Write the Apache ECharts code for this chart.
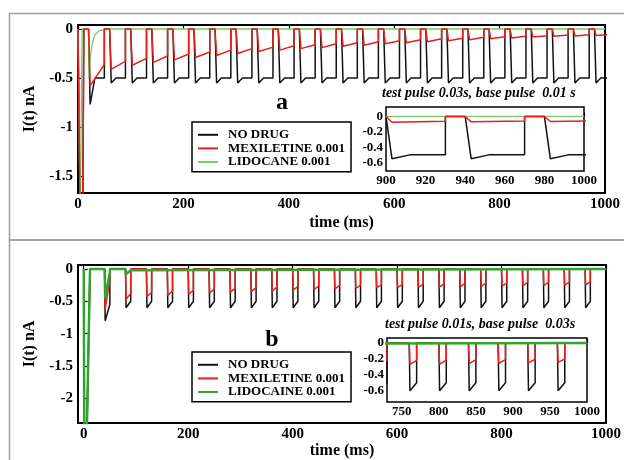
<!DOCTYPE html>
<html><head><meta charset="utf-8">
<script src="https://cdn.jsdelivr.net/npm/echarts@6/dist/echarts.min.js"></script>
<style>html,body{margin:0;padding:0;background:#fff}#c{width:624px;height:460px}</style>
</head><body><div id="c"></div><script>
// ---------- Panel a : test pulse 30 ms, base pulse 10 ms ----------
const pulseStartA = [20,60,100,140,180,220,260,300,340,380,420,460,500,540,580,620,660,700,740,780,820,860,900,940,980];
const blackMinA = [-0.77,-0.55,-0.55,-0.55,-0.55,-0.55,-0.55,-0.55,-0.55,-0.55,-0.55,-0.55,-0.55,-0.55,-0.55,-0.55,-0.55,-0.55,-0.55,-0.55,-0.55,-0.55,-0.55,-0.55,-0.55];
const blackEndA = [-0.5,-0.5,-0.5,-0.5,-0.5,-0.5,-0.5,-0.5,-0.5,-0.5,-0.5,-0.5,-0.5,-0.5,-0.5,-0.5,-0.5,-0.5,-0.5,-0.5,-0.5,-0.5,-0.5,-0.5,-0.5];
const redMinA = [-0.58,-0.41,-0.37,-0.34,-0.315,-0.29,-0.27,-0.25,-0.23,-0.215,-0.2,-0.19,-0.175,-0.165,-0.15,-0.14,-0.13,-0.12,-0.11,-0.1,-0.092,-0.082,-0.075,-0.07,-0.066];
const redEndA = [-0.36,-0.33,-0.3,-0.275,-0.255,-0.235,-0.215,-0.2,-0.185,-0.17,-0.16,-0.15,-0.14,-0.13,-0.12,-0.11,-0.1,-0.095,-0.085,-0.08,-0.075,-0.068,-0.062,-0.058,-0.055];
const blackPreA = [[0,0],[3,0],[4,-1.9],[9,-1.9],[11,0]];
const redPreA = [[0,0],[3,0],[4,-1.9],[9,-1.9],[11,0]];
const greenA = [[0,0],[3,0],[4,-1.9],[7,-1.9],[8,0],[20,0],[21,-0.5],[23,-0.3],[27,-0.15],[32,-0.06],[40,-0.02],[50,-0.005],[60,0],[1000,0]];
const testLenA = 30;

// ---------- Panel b : test pulse 10 ms, base pulse 30 ms ----------
const pulseStartB = [40,80,120,160,200,240,280,320,360,400,440,480,520,560,600,640,680,720,760,800,840,880,920,960];
const blackMinB = [-0.8,-0.6,-0.6,-0.6,-0.6,-0.6,-0.6,-0.6,-0.6,-0.6,-0.6,-0.6,-0.6,-0.6,-0.6,-0.6,-0.6,-0.6,-0.6,-0.6,-0.6,-0.6,-0.6,-0.6];
const blackEndB = [-0.55,-0.5,-0.5,-0.5,-0.5,-0.5,-0.5,-0.5,-0.5,-0.5,-0.5,-0.5,-0.5,-0.5,-0.5,-0.5,-0.5,-0.5,-0.5,-0.5,-0.5,-0.5,-0.5,-0.5];
const redMinB = [-0.62,-0.47,-0.43,-0.41,-0.39,-0.37,-0.36,-0.35,-0.34,-0.33,-0.32,-0.31,-0.3,-0.295,-0.29,-0.285,-0.28,-0.275,-0.27,-0.265,-0.26,-0.255,-0.25,-0.245];
const redEndB = [-0.17,-0.38,-0.36,-0.34,-0.33,-0.31,-0.3,-0.29,-0.28,-0.27,-0.26,-0.255,-0.25,-0.245,-0.24,-0.235,-0.23,-0.225,-0.22,-0.215,-0.21,-0.21,-0.205,-0.2];
const preB = [[0,0],[1,-2.5],[6,-2.5],[12,0]];
const greenB = [[0,0],[1,-2.5],[6,-2.5],[12,0],[40,0],[41,-0.45],[50,-0.06],[50,0],[80,0],[81,-0.08],[90,-0.02],[90,0],[1000,0]];
const testLenB = 10;

// axis ticks
const xTicksMain = [0,200,400,600,800,1000];
const yTicksA = [0,-0.5,-1,-1.5];
const yTicksB = [0,-0.5,-1,-1.5,-2];
const xTicksInsetA = [900,920,940,960,980,1000];
const xTicksInsetB = [750,800,850,900,950,1000];
const yTicksInset = [0,-0.2,-0.4,-0.6];

// ---------- build waveforms ----------
function waveA(pre, mins, ends, knee) {
  const out = pre.slice();
  pulseStartA.forEach((t0, k) => {
    out.push([t0, 0], [t0 + 3, mins[k]]);
    if (knee) out.push([t0 + 12, ends[k]]);
    out.push([t0 + testLenA, ends[k]], [t0 + testLenA, 0]);
  });
  return out;
}
function waveB(pre, mins, ends) {
  const out = pre.slice();
  pulseStartB.forEach((t0, k) => {
    out.push([t0, 0], [t0 + 1, mins[k]], [t0 + 2.5, mins[k]], [t0 + testLenB, ends[k]], [t0 + testLenB, 0]);
  });
  out.push([1000, 0]);
  return out;
}
const blackA = waveA(blackPreA, blackMinA, blackEndA, true);
const redA = waveA(redPreA, redMinA, redEndA, false);
const blackB = waveB(preB, blackMinB, blackEndB);
const redB = waveB(preB, redMinB, redEndB);

const FONT = 'Liberation Serif';
const BLACK = '#111', RED = '#e8201c', GREEN_A = '#77cc66', GREEN_B = '#2fa52f';

function xAxis(grid, min, max, ticks, fs, margin, name, gap) {
  return {
    type: 'value', gridIndex: grid, min, max,
    axisLine: { show: false }, splitLine: { show: false },
    axisTick: { show: true, inside: true, length: 4, customValues: ticks, lineStyle: { color: '#000', width: 1.2 } },
    axisLabel: { customValues: ticks, fontFamily: FONT, fontWeight: 'bold', fontSize: fs, color: '#000', margin, formatter: v => String(v) },
    name: name || '', nameLocation: 'middle', nameGap: gap || 0,
    nameTextStyle: { fontFamily: FONT, fontWeight: 'bold', fontSize: 16, color: '#000' }
  };
}
function yAxis(grid, min, max, ticks, fs, margin, name, gap) {
  return {
    type: 'value', gridIndex: grid, min, max,
    axisLine: { show: false }, splitLine: { show: false },
    axisTick: { show: true, inside: true, length: 4, customValues: ticks, lineStyle: { color: '#000', width: 1.2 } },
    axisLabel: { customValues: ticks, fontFamily: FONT, fontWeight: 'bold', fontSize: fs, color: '#000', margin, formatter: v => String(v) },
    name: name || '', nameLocation: 'middle', nameGap: gap || 0, nameRotate: 90,
    nameTextStyle: { fontFamily: FONT, fontWeight: 'bold', fontSize: 16, color: '#000' }
  };
}
function line(name, data, color, width, xi, z) {
  return { type: 'line', name, data, xAxisIndex: xi, yAxisIndex: xi, symbol: 'none', clip: true,
    lineStyle: { color, width }, itemStyle: { color }, z: z, animation: false };
}
const gridBase = { show: true, borderColor: '#000', backgroundColor: '#fff', containLabel: false };
const legendBase = {
  orient: 'vertical', icon: 'rect', itemWidth: 20, itemHeight: 2, itemGap: 0, padding: [6, 6, 3, 6],
  borderColor: '#000', borderWidth: 1.5, backgroundColor: '#fff', selectedMode: false,
  textStyle: { fontFamily: FONT, fontWeight: 'bold', fontSize: 13, lineHeight: 13.6, color: '#000', padding: [0, 0, 0, 5] }
};
const txt = (x, y, s, size, italic, align) => ({
  type: 'text', x, y, silent: true, z: 100,
  style: { text: s, fontFamily: FONT, fontWeight: 'bold', fontStyle: italic ? 'italic' : 'normal', fontSize: size, fill: '#000', align: align || 'left', verticalAlign: 'middle' }
});

const option = {
  animation: false,
  backgroundColor: '#fff',
  grid: [
    Object.assign({ left: 78, top: 25, width: 527, height: 168, borderWidth: 2 }, gridBase),
    Object.assign({ left: 386, top: 107, width: 198, height: 64, borderWidth: 1.5, z: 5 }, gridBase),
    Object.assign({ left: 78, top: 265, width: 530, height: 161, borderWidth: 2 }, gridBase),
    Object.assign({ left: 387, top: 338, width: 200, height: 64, borderWidth: 1.5, z: 5 }, gridBase)
  ],
  xAxis: [
    xAxis(0, 0, 1000, xTicksMain, 15, 4, 'time (ms)', 22),
    xAxis(1, 900, 1000, xTicksInsetA, 13, 3),
    xAxis(2, -11, 1000, xTicksMain, 15, 4, 'time (ms)', 20),
    xAxis(3, 730, 1000, xTicksInsetB, 13, 3)
  ],
  yAxis: [
    yAxis(0, -1.673, 0.041, yTicksA, 15, 5, 'I(t) nA', 40),
    yAxis(1, -0.71, 0.123, yTicksInset, 13, 3),
    yAxis(2, -2.38, 0.06, yTicksB, 15, 5, 'I(t) nA', 40),
    yAxis(3, -0.742, 0.0625, yTicksInset, 13, 3)
  ],
  legend: [
    Object.assign({ left: 192, top: 122, data: ['NO DRUG', 'MEXILETINE 0.001', 'LIDOCANE 0.001'] }, legendBase),
    Object.assign({ left: 192, top: 352, data: ['NO DRUG', 'MEXILETINE 0.001', 'LIDOCAINE 0.001'] }, legendBase)
  ],
  series: [
    line('NO DRUG', blackA, BLACK, 1.5, 0, 2),
    line('LIDOCANE 0.001', greenA, GREEN_A, 1.3, 0, 3),
    line('MEXILETINE 0.001', redA, RED, 1.5, 0, 4),
    line('NO DRUG', blackA, BLACK, 1.5, 1, 12),
    line('LIDOCANE 0.001', greenA, GREEN_A, 1.3, 1, 13),
    line('MEXILETINE 0.001', redA, RED, 1.5, 1, 14),
    line('NO DRUG', blackB, BLACK, 1.5, 2, 2),
    line('MEXILETINE 0.001', redB, RED, 1.5, 2, 3),
    line('LIDOCAINE 0.001', greenB, GREEN_B, 2.5, 2, 4),
    line('NO DRUG', blackB, BLACK, 1.5, 3, 12),
    line('MEXILETINE 0.001', redB, RED, 1.5, 3, 13),
    line('LIDOCAINE 0.001', greenB, GREEN_B, 2.5, 3, 14)
  ],
  graphic: [
    { type: 'rect', silent: true, z: -10, shape: { x: 9.5, y: 13.5, width: 700, height: 226.5 }, style: { fill: 'none', stroke: '#a0a0a0', lineWidth: 1.5 } },
    { type: 'rect', silent: true, z: -10, shape: { x: 9.5, y: 240, width: 700, height: 300 }, style: { fill: 'none', stroke: '#a0a0a0', lineWidth: 1.5 } },
    txt(282, 103, 'a', 24, false, 'center'),
    txt(272, 340, 'b', 24, false, 'center'),
    txt(382, 93, 'test pulse 0.03s, base pulse  0.01 s', 14, true),
    txt(385, 324, 'test pulse 0.01s, base pulse  0.03s', 14, true)
  ]
};
const chart = echarts.init(document.getElementById('c'), null, { renderer: 'canvas' });
chart.setOption(option);
</script></body></html>
